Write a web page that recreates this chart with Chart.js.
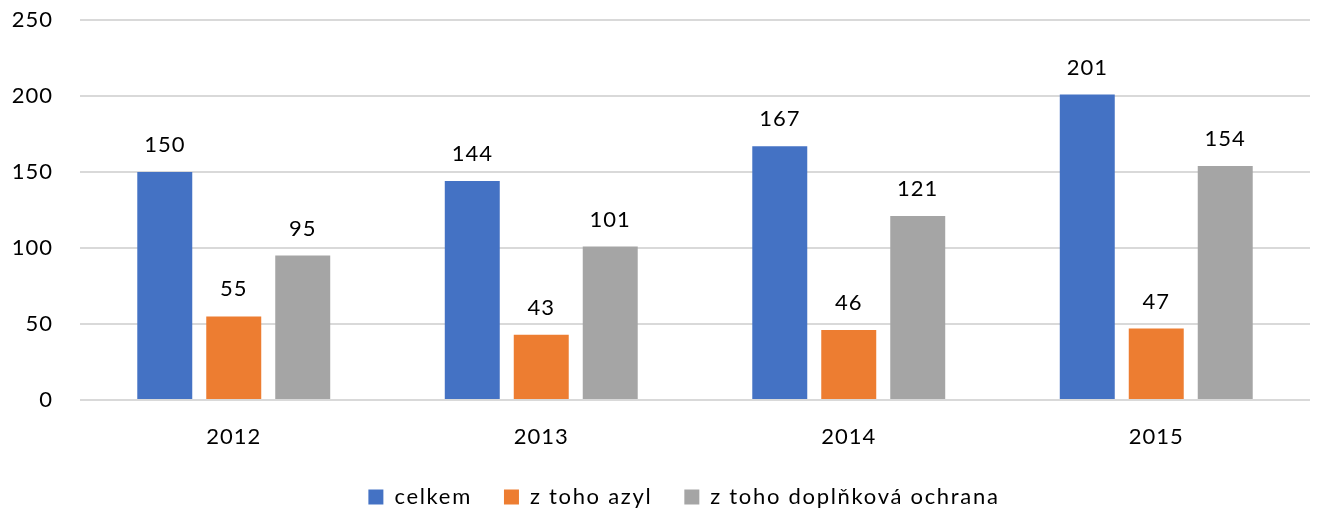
<!DOCTYPE html>
<html>
<head>
<meta charset="utf-8">
<script src="https://cdn.jsdelivr.net/npm/chart.js@4/dist/chart.umd.min.js"></script>
<style>
    html, body { margin: 0; padding: 0; background: #fff; }
    #wrap { width: 1325px; height: 510px; }
</style>
</head>
<body>
<div id="wrap"><canvas id="azylChart"></canvas></div>
<script>
const years = ['2012', '2013', '2014', '2015'];
const celkem = [150, 144, 167, 201];
const azyl = [55, 43, 46, 47];
const doplnkova = [95, 101, 121, 154];
const yTicks = [0, 50, 100, 150, 200, 250];

const FONT = 'Lato, "Open Sans", sans-serif';
const LEGEND_SPACING = '1.7px';
const TICK_SPACING = '1px';

// prostrkane pismo jako v originalu (legenda se kresli pred sloupci, popisky os az po nich)
const letterSpacing = {
    id: 'letterSpacing',
    beforeUpdate(chart) { chart.ctx.letterSpacing = LEGEND_SPACING; },
    afterUpdate(chart) {
        // legenda je v originalu posunuta trochu doprava
        chart.legend.left += 29;
        chart.legend.right += 29;
    },
    beforeDraw(chart) { chart.ctx.letterSpacing = LEGEND_SPACING; },
    afterDatasetsDraw(chart) { chart.ctx.letterSpacing = TICK_SPACING; }
};

// hodnoty nad sloupci
const valueLabels = {
    id: 'valueLabels',
    afterDatasetsDraw(chart) {
        const ctx = chart.ctx;
        ctx.save();
        ctx.font = '22px ' + FONT;
        ctx.fillStyle = '#000';
        ctx.textAlign = 'center';
        ctx.textBaseline = 'middle';
        chart.data.datasets.forEach((ds, i) => {
            chart.getDatasetMeta(i).data.forEach((bar, j) => {
                ctx.fillText(String(ds.data[j]), bar.x, bar.y - 27);
            });
        });
        ctx.restore();
    }
};

new Chart(document.getElementById('azylChart').getContext('2d'), {
    type: 'bar',
    data: {
        labels: years,
        datasets: [
            { label: 'celkem', data: celkem, backgroundColor: '#4472c4' },
            { label: 'z toho azyl', data: azyl, backgroundColor: '#ed7d31' },
            { label: 'z toho doplňková ochrana', data: doplnkova, backgroundColor: '#a5a5a5' }
        ]
    },
    options: {
        responsive: true,
        maintainAspectRatio: false,
        animation: false,
        layout: { padding: { top: 20, left: 0, right: 15, bottom: -8 } },
        datasets: { bar: { categoryPercentage: 0.673, barPercentage: 0.797 } },
        plugins: {
            tooltip: { enabled: false },
            legend: {
                position: 'bottom',
                labels: {
                    font: { family: FONT, size: 22 },
                    color: '#000',
                    boxWidth: 15,
                    boxHeight: 15,
                    padding: 32
                }
            }
        },
        scales: {
            x: {
                grid: { display: false },
                border: { display: false },
                ticks: { font: { family: FONT, size: 22 }, color: '#000', padding: 16, z: 1 },
                afterFit: s => { s.height = 54; s.paddingLeft = 0; s.paddingRight = 0; }
            },
            y: {
                min: 0,
                max: 250,
                afterBuildTicks: axis => { axis.ticks = yTicks.map(v => ({ value: v })); },
                grid: { color: '#d9d9d9', lineWidth: 2, drawTicks: false },
                border: { display: false },
                ticks: { font: { family: FONT, size: 22 }, color: '#000', padding: 27, z: 1 },
                afterFit: s => { s.width = 80; s.paddingTop = 0; s.paddingBottom = 0; }
            }
        }
    },
    plugins: [letterSpacing, valueLabels]
});
</script>
</body>
</html>
